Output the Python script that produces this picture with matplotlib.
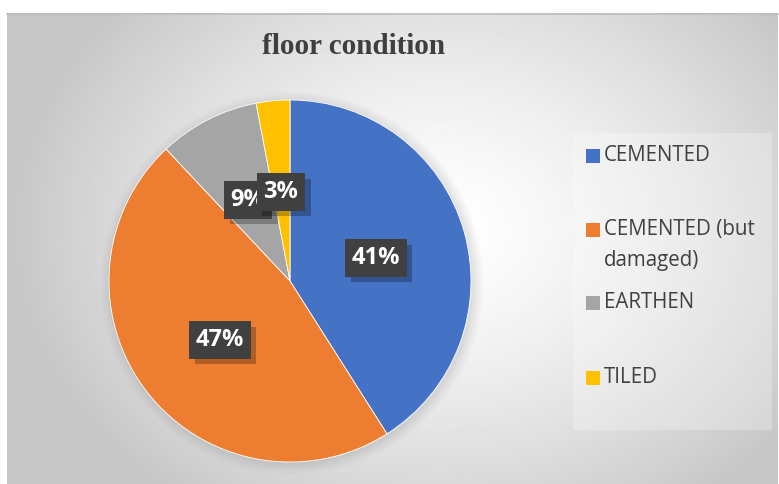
import numpy as np
import matplotlib
matplotlib.use("Agg")
import matplotlib.pyplot as plt
import matplotlib.patheffects as pe
from matplotlib.patches import Rectangle, Circle

# --- data ---
categories = ["CEMENTED", "CEMENTED (but\ndamaged)", "EARTHEN", "TILED"]
shares = [41, 47, 9, 3]  # percent
colors = ["#4472C4", "#ED7D31", "#A5A5A5", "#FFC000"]
label_pos = [(0.475, 0.127), (-0.387, -0.326), (-0.232, 0.448), (-0.05, 0.492)]

W, H = 779, 484
fig = plt.figure(figsize=(W / 100, H / 100), dpi=100)
fig.patch.set_facecolor("white")

# background axes in pixel coordinates (y down)
bg = fig.add_axes([0, 0, 1, 1])
bg.set_xlim(0, W)
bg.set_ylim(H, 0)
bg.axis("off")

# radial gradient chart area
x0, y0, x1, y1 = 7, 13, 778, 484
gx, gy = np.meshgrid(np.linspace(x0, x1, 400), np.linspace(y0, y1, 250))
cx, cy = 440, 230
r = np.sqrt(((gx - cx) / 430) ** 2 + ((gy - cy) / 340) ** 2)
grad = 1.0 - 0.22 * np.clip(r, 0, 1) ** 1.4
bg.imshow(grad, cmap="gray", vmin=0, vmax=1, extent=(x0, x1, y1, y0),
          aspect="auto", interpolation="bilinear", zorder=0)
bg.plot([x0, x1], [y0 + 0.5, y0 + 0.5], color="#bdbdbd", lw=1.2, zorder=1)

# soft shadow around the pie
for k, a in zip(range(6), [0.05, 0.05, 0.045, 0.04, 0.03, 0.02]):
    bg.add_patch(Circle((292, 283), 182 + 2 * k, color="#888888", alpha=a,
                        lw=0, zorder=1))

# title
bg.text(354, 47, "floor condition", ha="center", va="center",
        fontsize=21, fontweight="bold", family="Liberation Serif",
        color="#3f3f3f", zorder=3)

# legend box
bg.add_patch(Rectangle((573, 133), 199, 297, facecolor="white", alpha=0.25,
                       lw=0, zorder=2))
leg_y = [156, 230, 303, 378]
for lab, col, yy in zip(categories, colors, leg_y):
    bg.add_patch(Rectangle((586, yy - 7), 14, 14, facecolor=col, lw=0, zorder=3))
    bg.text(604, yy - 11, lab, ha="left", va="top", fontsize=14.8,
            family="Open Sans", color="#404040", linespacing=1.6, zorder=3)

# pie
cxp, cyp, rad = 290, 281, 181
ax = fig.add_axes([(cxp - rad) / W, (H - cyp - rad) / H, 2 * rad / W, 2 * rad / H])
ax.pie(shares, colors=colors, startangle=90, counterclock=False,
       wedgeprops=dict(linewidth=0.6, edgecolor="white"))
ax.set_xlim(-1, 1)
ax.set_ylim(-1, 1)
ax.axis("off")

for val, (lx, ly) in zip(shares, label_pos):
    t = ax.text(lx, ly, f"{val}%", ha="center", va="center", fontsize=17,
                fontweight="bold", family="Open Sans", color="white",
                bbox=dict(boxstyle="square,pad=0.28", facecolor="#404040", lw=0))
    t.get_bbox_patch().set_path_effects(
        [pe.SimplePatchShadow(offset=(4, -4), shadow_rgbFace="black", alpha=0.25),
         pe.Normal()])

fig.savefig("out.png", dpi=100)
